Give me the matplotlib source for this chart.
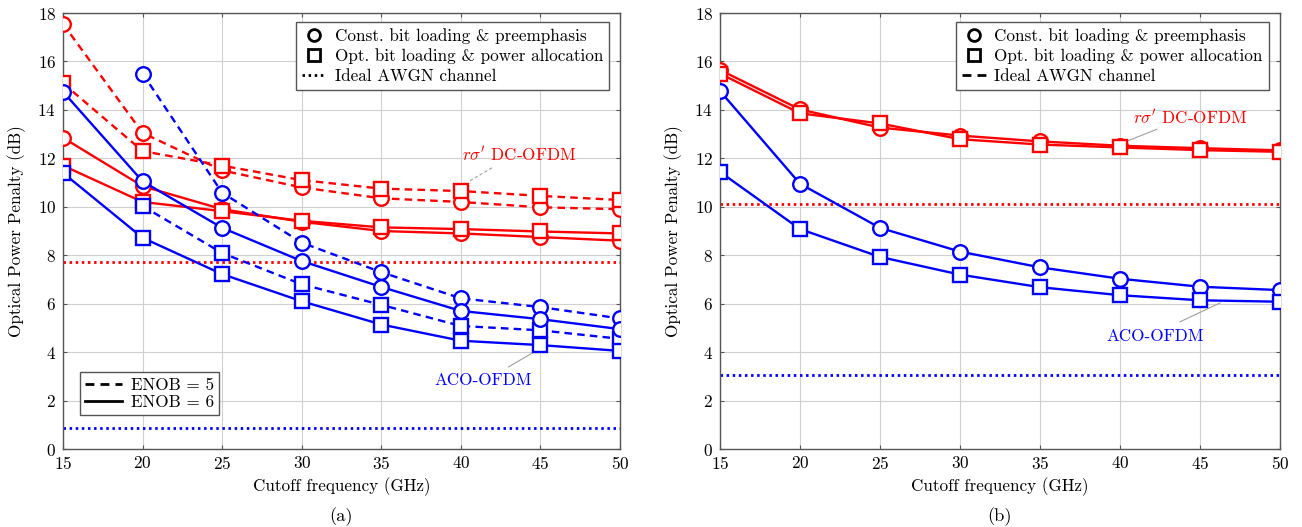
import numpy as np
import matplotlib
matplotlib.use('Agg')
import matplotlib.pyplot as plt
from matplotlib.lines import Line2D

plt.rcParams['font.family'] = ['cmr10', 'DejaVu Serif']
plt.rcParams['mathtext.fontset'] = 'cm'
plt.rcParams['axes.formatter.use_mathtext'] = True

# Données
freq = [15, 20, 25, 30, 35, 40, 45, 50]

# (a) : ENOB = 5 (tirets) et ENOB = 6 (continu)
a_dc_e5_const = [17.55, 13.05, 11.5, 10.8, 10.35, 10.2, 9.98, 9.9]
a_dc_e5_opt = [15.1, 12.3, 11.7, 11.1, 10.75, 10.65, 10.45, 10.28]
a_dc_e6_const = [12.85, 10.85, 9.9, 9.38, 9.0, 8.9, 8.75, 8.6]
a_dc_e6_opt = [11.7, 10.2, 9.82, 9.42, 9.15, 9.08, 8.98, 8.9]
a_aco_e5_const = [np.nan, 15.5, 10.58, 8.52, 7.3, 6.22, 5.86, 5.39]
a_aco_e5_opt = [np.nan, 10.03, 8.09, 6.8, 5.95, 5.08, 4.9, 4.55]
a_aco_e6_const = [14.75, 11.05, 9.13, 7.76, 6.69, 5.7, 5.36, 4.95]
a_aco_e6_opt = [11.4, 8.72, 7.22, 6.1, 5.14, 4.47, 4.29, 4.05]
a_dc_ideal = 7.72
a_aco_ideal = 0.88

# (b)
b_dc_const = [15.65, 14.02, 13.27, 12.94, 12.7, 12.52, 12.42, 12.33]
b_dc_opt = [15.5, 13.86, 13.44, 12.79, 12.57, 12.45, 12.34, 12.27]
b_aco_const = [14.78, 10.95, 9.13, 8.15, 7.5, 7.03, 6.7, 6.56]
b_aco_opt = [11.44, 9.08, 7.93, 7.2, 6.68, 6.35, 6.14, 6.08]
b_dc_ideal = 10.13
b_aco_ideal = 3.06

RED = '#ff0000'
BLUE = '#0000ff'
FS = 12.3
DASH = (0, (3.2, 2.2))
DOT = (0, (0.9, 1.3))


def courbe(ax, y, color, marker, ls):
    ax.plot(freq, y, color=color, lw=1.7, ls=ls, marker=marker, ms=10.5,
            mfc='white', mec=color, mew=1.7, zorder=3)


def habillage(ax):
    ax.set_xlim(15, 50)
    ax.set_ylim(0, 18)
    ax.set_xticks(freq)
    ax.set_yticks(range(0, 19, 2))
    ax.grid(True, color='#d0d0d0', lw=0.8)
    ax.set_axisbelow(True)
    for s in ax.spines.values():
        s.set_color('#555555')
        s.set_linewidth(1.0)
    ax.tick_params(direction='in', length=3, color='#555555',
                   labelsize=FS, top=True, right=True)
    ax.tick_params(axis='y', pad=5)
    ax.tick_params(axis='x', pad=4)
    ax.set_xlabel('Cutoff frequency (GHz)', fontsize=FS, labelpad=4)
    ax.set_ylabel('Optical Power Penalty (dB)', fontsize=FS, labelpad=8)


def legende_methodes(ax, ideal_ls):
    h = [Line2D([], [], ls='none', marker='o', ms=8.5, mfc='white', mec='black', mew=2),
         Line2D([], [], ls='none', marker='s', ms=8.5, mfc='white', mec='black', mew=2),
         Line2D([], [], ls=ideal_ls, color='black', lw=2)]
    lab = ['Const. bit loading & preemphasis',
           'Opt. bit loading & power allocation',
           'Ideal AWGN channel']
    leg = ax.legend(h, lab, loc='upper right', bbox_to_anchor=(0.98, 0.98),
                    fontsize=FS, fancybox=False, framealpha=1,
                    edgecolor='#555555', handlelength=1.4, handletextpad=0.5,
                    labelspacing=0.28, borderpad=0.35, borderaxespad=0)
    leg.get_frame().set_linewidth(1.0)
    return leg


fig = plt.figure(figsize=(13.02, 5.27), dpi=100)
ax1 = fig.add_axes([0.0484, 0.148, 0.4278, 0.8273])
ax2 = fig.add_axes([0.553, 0.148, 0.4301, 0.8273])

# ---- (a)
ax1.axhline(a_dc_ideal, color=RED, lw=2, ls=DOT, zorder=2)
ax1.axhline(a_aco_ideal, color=BLUE, lw=2, ls=DOT, zorder=2)
courbe(ax1, a_dc_e5_const, RED, 'o', DASH)
courbe(ax1, a_dc_e5_opt, RED, 's', DASH)
courbe(ax1, a_dc_e6_const, RED, 'o', '-')
courbe(ax1, a_dc_e6_opt, RED, 's', '-')
courbe(ax1, a_aco_e5_const, BLUE, 'o', DASH)
courbe(ax1, a_aco_e5_opt, BLUE, 's', DASH)
courbe(ax1, a_aco_e6_const, BLUE, 'o', '-')
courbe(ax1, a_aco_e6_opt, BLUE, 's', '-')
habillage(ax1)

leg1 = legende_methodes(ax1, DOT)
ax1.add_artist(leg1)
h_enob = [Line2D([], [], color='black', lw=2, ls=DASH),
          Line2D([], [], color='black', lw=2, ls='-')]
leg2 = ax1.legend(h_enob, ['ENOB = 5', 'ENOB = 6'], loc='lower left',
                  bbox_to_anchor=(0.03, 0.078), fontsize=FS, fancybox=False,
                  framealpha=1, edgecolor='#555555', handlelength=2.2,
                  handletextpad=0.5, labelspacing=0.1, borderpad=0.3,
                  borderaxespad=0)
leg2.get_frame().set_linewidth(1.0)

ax1.text(40.1, 12.15, r"$r\sigma'$ DC-OFDM", color=RED, fontsize=FS,
         ha='left', va='center')
ax1.plot([41.96, 40.45], [11.61, 11.03], color='#a0a0a0', lw=0.8, ls=(0, (3, 2)))
ax1.text(41.4, 2.85, 'ACO-OFDM', color=BLUE, fontsize=FS, ha='center', va='center')
ax1.plot([43.0, 44.5], [3.39, 3.97], color='#a0a0a0', lw=0.8)

# ---- (b)
ax2.axhline(b_dc_ideal, color=RED, lw=2, ls=DOT, zorder=2)
ax2.axhline(b_aco_ideal, color=BLUE, lw=2, ls=DOT, zorder=2)
courbe(ax2, b_dc_const, RED, 'o', '-')
courbe(ax2, b_dc_opt, RED, 's', '-')
courbe(ax2, b_aco_const, BLUE, 'o', '-')
courbe(ax2, b_aco_opt, BLUE, 's', '-')
habillage(ax2)
legende_methodes(ax2, DASH)

ax2.text(40.8, 13.7, r"$r\sigma'$ DC-OFDM", color=RED, fontsize=FS,
         ha='left', va='center')
ax2.plot([42.3, 40.4], [13.2, 12.7], color='#a0a0a0', lw=0.8)
ax2.text(42.2, 4.67, 'ACO-OFDM', color=BLUE, fontsize=FS, ha='center', va='center')
ax2.plot([43.75, 46.25], [5.25, 6.03], color='#a0a0a0', lw=0.8)

fig.text(0.262, 0.02, '(a)', fontsize=FS + 1, ha='center', va='center')
fig.text(0.768, 0.02, '(b)', fontsize=FS + 1, ha='center', va='center')

plt.savefig('out.png', dpi=100)
